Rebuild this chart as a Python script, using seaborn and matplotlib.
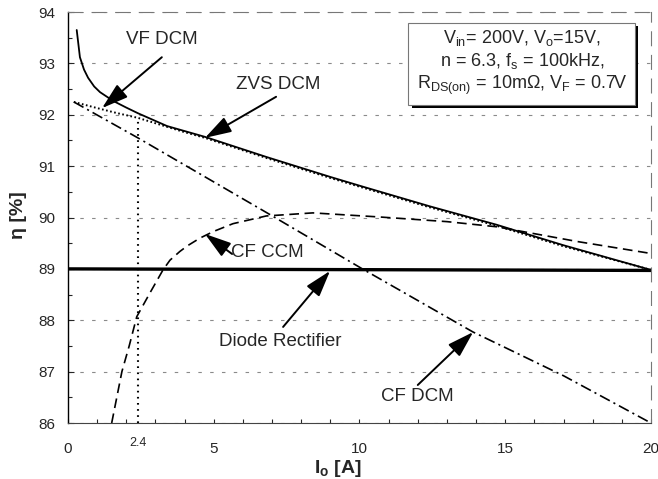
import numpy as np
import pandas as pd
import matplotlib
matplotlib.use("Agg")
import matplotlib.pyplot as plt
import matplotlib.patheffects as pe
from matplotlib.ticker import MultipleLocator, FixedLocator
import seaborn as sns

# ---------------- data ----------------
io_vf = [0.3, 0.41, 0.55, 0.69, 0.9, 1.1, 1.55, 2.0, 2.4, 3.4, 4.7, 6.8, 9.0, 10.0, 12.4, 14.7, 17.0, 20.0]
eta_vf = [93.65, 93.12, 92.88, 92.72, 92.55, 92.44, 92.27, 92.14, 92.03, 91.78, 91.57, 91.18, 90.79, 90.62, 90.22, 89.86, 89.46, 88.98]

io_zvs = [0.2, 1.0, 1.7, 2.4, 3.2, 3.95, 4.7, 6.8, 9.0, 10.0, 12.4, 14.7, 17.0, 20.0]
eta_zvs = [92.25, 92.13, 92.03, 91.94, 91.8, 91.67, 91.55, 91.16, 90.77, 90.6, 90.2, 89.84, 89.44, 88.98]

io_cfdcm = [0.2, 2.4, 6.8, 10.1, 13.9, 17.0, 20.0]
eta_cfdcm = [92.25, 91.55, 90.1, 89.0, 87.77, 86.92, 86.0]

io_cfccm = [1.5, 1.85, 2.1, 2.36, 2.81, 3.26, 3.5, 3.84, 4.1, 4.53, 5.0, 5.66, 6.8, 8.4, 10.7, 13.0, 14.7, 17.5, 20.0]
eta_cfccm = [86.0, 87.0, 87.5, 88.07, 88.53, 88.98, 89.17, 89.34, 89.45, 89.6, 89.73, 89.88, 90.03, 90.09, 90.01, 89.92, 89.82, 89.53, 89.3]

io_diode = [0.0, 20.0]
eta_diode = [89.0, 88.97]

io_mark = [2.4, 2.4]
eta_mark = [86.0, 91.94]

x_ticks = [0, 5, 10, 15, 20]
y_ticks = [86, 87, 88, 89, 90, 91, 92, 93, 94]

# ---------------- style ----------------
sns.set_style("ticks")
plt.rcParams["font.family"] = ["Liberation Sans", "DejaVu Sans"]
plt.rcParams["mathtext.fontset"] = "custom"
plt.rcParams["mathtext.rm"] = "Liberation Sans"
plt.rcParams["mathtext.it"] = "Liberation Sans:italic"
plt.rcParams["mathtext.bf"] = "Liberation Sans:bold"
plt.rcParams["lines.scale_dashes"] = False

fig = plt.figure(figsize=(6.58, 4.79), dpi=100)
ax = fig.add_axes([0.1033, 0.1169, 0.886, 0.858])

def draw(x, y, **kw):
    df = pd.DataFrame({"x": x, "y": y})
    sns.lineplot(data=df, x="x", y="y", ax=ax, estimator=None, sort=False, **kw)

draw(io_diode, eta_diode, color="black", lw=2.4)
draw(io_cfdcm, eta_cfdcm, color="black", lw=1.2, linestyle=(0, (8, 3, 1.5, 3)))
draw(io_cfccm, eta_cfccm, color="black", lw=1.2, linestyle=(0, (7, 4)))
draw(io_zvs, eta_zvs, color="black", lw=1.4, linestyle=(0, (1.2, 1.8)))
draw(io_vf, eta_vf, color="black", lw=1.3)
draw(io_mark, eta_mark, color="black", lw=1.5, linestyle=(0, (1.2, 3.2)))

ax.set_xlim(0, 20)
ax.set_ylim(86, 94)
ax.xaxis.set_major_locator(FixedLocator(x_ticks))
ax.xaxis.set_minor_locator(MultipleLocator(1))
ax.yaxis.set_major_locator(FixedLocator(y_ticks))
ax.yaxis.set_minor_locator(MultipleLocator(0.5))
ax.tick_params(axis="x", which="major", direction="in", length=3, width=0.8, pad=14, labelsize=11)
ax.tick_params(axis="x", which="minor", direction="in", length=3, width=0.8)
ax.tick_params(axis="y", which="major", direction="in", length=4, width=0.8, pad=9, labelsize=11)
ax.tick_params(axis="y", which="minor", direction="in", length=3, width=0.8)

ax.yaxis.grid(True, which="major", linestyle=(0, (2.5, 6)), color="#8a8a8a", lw=0.8)
ax.set_axisbelow(True)

for s in ["top", "right"]:
    ax.spines[s].set_linestyle((0, (10, 7)))
    ax.spines[s].set_color("#777777")
    ax.spines[s].set_linewidth(0.8)
ax.spines["bottom"].set_color("#444444")
ax.spines["bottom"].set_linewidth(0.8)
ax.spines["left"].set_color("black")
ax.spines["left"].set_linewidth(1.0)

ax.text(2.4, -0.033, "2.4", transform=ax.get_xaxis_transform(), ha="center", va="top", fontsize=9)

ax.set_xlabel(r"I$_\mathbf{o}$ [A]", fontsize=14, fontweight="bold")
ax.set_ylabel("η [%]", fontsize=14, fontweight="bold")
ax.xaxis.set_label_coords(0.463, -0.085)
ax.yaxis.set_label_coords(-0.07, 0.506)

# annotations
aprops = dict(arrowstyle="-|>,head_length=0.9,head_width=0.28", color="black", lw=1.4,
              shrinkA=0, shrinkB=0, mutation_scale=18)
fs = 13.5
ax.annotate("", xy=(1.17, 92.13), xytext=(3.22, 93.12), arrowprops=aprops)
ax.text(3.22, 93.46, "VF DCM", ha="center", va="center", fontsize=fs)
ax.annotate("", xy=(4.7, 91.55), xytext=(7.14, 92.35), arrowprops=aprops)
ax.text(7.2, 92.58, "ZVS DCM", ha="center", va="center", fontsize=fs)
ax.annotate("", xy=(4.7, 89.68), xytext=(5.63, 89.29), arrowprops=aprops)
ax.text(5.6, 89.31, "CF CCM", ha="left", va="center", fontsize=fs)
ax.annotate("", xy=(8.99, 88.96), xytext=(7.38, 87.87), arrowprops=aprops)
ax.text(7.27, 87.58, "Diode Rectifier", ha="center", va="center", fontsize=fs)
ax.annotate("", xy=(13.9, 87.77), xytext=(12.0, 86.74), arrowprops=aprops)
ax.text(12.0, 86.51, "CF DCM", ha="center", va="center", fontsize=fs)

box_txt = ("V$_{\\rm in}$= 200V, V$_{\\rm o}$=15V,\n"
           "n = 6.3, f$_{\\rm s}$ = 100kHz,\n"
           "R$_{\\rm DS(on)}$ = 10m\u03a9, V$_{\\rm F}$ = 0.7V")
t = ax.text(15.57, 93.02, box_txt, ha="center", va="center", fontsize=13, linespacing=1.2,
            bbox=dict(boxstyle="square,pad=0.45", fc="white", ec="#777777", lw=0.8), zorder=5)
t.get_bbox_patch().set_path_effects([pe.SimplePatchShadow(offset=(2.2, -2.2), shadow_rgbFace="black", alpha=1.0),
                                     pe.Normal()])

fig.savefig("out.png", dpi=100)
